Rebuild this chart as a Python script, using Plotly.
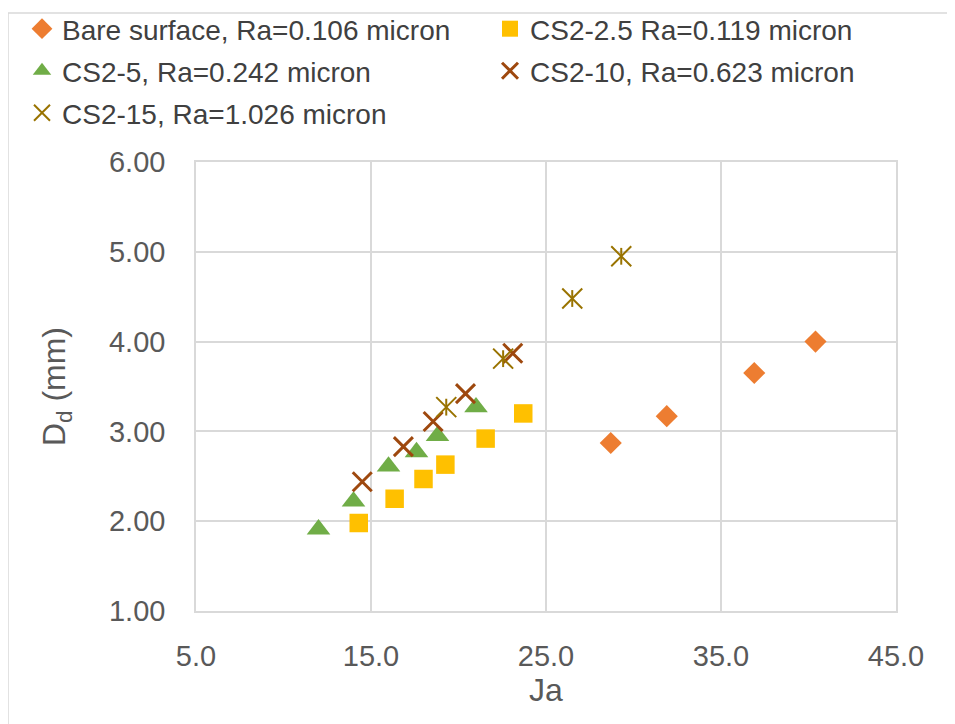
import plotly.graph_objects as go

# ---- data ----
bare_x = [28.7, 31.9, 36.9, 40.4]
bare_y = [2.87, 3.17, 3.65, 4.00]

cs25_x = [14.3, 16.35, 18.0, 19.25, 21.55, 23.7]
cs25_y = [1.98, 2.25, 2.47, 2.63, 2.92, 3.20]

cs5_x = [12.0, 14.0, 16.0, 17.6, 18.8, 21.0]
cs5_y = [1.91, 2.22, 2.61, 2.77, 2.95, 3.27]

cs10_x = [14.5, 16.85, 18.55, 20.4, 23.1]
cs10_y = [2.44, 2.83, 3.11, 3.42, 3.87]

cs15_x = [19.3, 22.55, 26.5, 29.3]
cs15_y = [3.27, 3.81, 4.48, 4.95]

names = ["Bare surface, Ra=0.106 micron", "CS2-2.5 Ra=0.119 micron",
         "CS2-5, Ra=0.242 micron", "CS2-10, Ra=0.623 micron",
         "CS2-15, Ra=1.026 micron"]

x_ticks = [5, 15, 25, 35, 45]
y_ticks = [1, 2, 3, 4, 5, 6]

FONT = "Liberation Sans, Arial, sans-serif"

# layout geometry (figure pixels; page adds an 8px body margin)
L, T, W, H = 188, 154, 700, 449
BOT = T + H


def px_x(p):
    return (p - L) / W


def px_y(p):
    return (BOT - p) / H


fig = go.Figure()
fig.add_trace(go.Scatter(x=bare_x, y=bare_y, mode="markers", name=names[0], legend="legend",
                         showlegend=True,
                         marker=dict(symbol="diamond", size=17, color="#ED7D31")))
fig.add_trace(go.Scatter(x=cs25_x, y=cs25_y, mode="markers", name=names[1], legend="legend2",
                         marker=dict(symbol="square", size=18.5, color="#FFC000")))
fig.add_trace(go.Scatter(x=cs5_x, y=cs5_y, mode="markers", name=names[2], legend="legend3",
                         marker=dict(symbol="triangle-up", size=20.5, color="#70AD47")))
fig.add_trace(go.Scatter(x=cs10_x, y=cs10_y, mode="markers", name=names[3], legend="legend4",
                         marker=dict(symbol="x-thin-open", size=19,
                                     line=dict(width=3, color="#9E480E"), color="#9E480E")))
fig.add_trace(go.Scatter(x=cs15_x, y=cs15_y, mode="markers", name=names[4], legend="legend5",
                         legendgroup="cs15",
                         marker=dict(symbol="x-thin-open", size=20,
                                     line=dict(width=2, color="#997300"), color="#997300")))
fig.add_trace(go.Scatter(x=cs15_x, y=cs15_y, mode="markers", name=names[4], legend="legend5",
                         legendgroup="cs15", showlegend=False,
                         marker=dict(symbol="line-ns-open", size=12,
                                     line=dict(width=2, color="#997300"), color="#997300")))

axis_common = dict(showgrid=True, gridcolor="#D9D9D9", gridwidth=1.5,
                   showline=True, mirror=True, linecolor="#D9D9D9", linewidth=1.5,
                   zeroline=False, ticks="outside", tickcolor="rgba(0,0,0,0)")

fig.update_xaxes(range=[5, 45], tickvals=x_ticks, tickformat=".1f", ticklen=18,
                 tickfont=dict(family=FONT, size=29, color="#595959"),
                 title=dict(text="Ja", font=dict(family=FONT, size=32, color="#595959"),
                            standoff=6),
                 **axis_common)
fig.update_yaxes(range=[1, 6], tickvals=y_ticks, tickformat=".2f", ticklen=23,
                 tickfont=dict(family=FONT, size=29, color="#595959"),
                 title=dict(text="D<sub>d</sub> (mm)", font=dict(family=FONT, size=32, color="#595959"),
                            standoff=34),
                 **axis_common)

fig.add_shape(type="rect", xref="paper", yref="paper",
              x0=px_x(0), x1=1.3, y0=-0.4, y1=px_y(5),
              line=dict(color="#D9D9D9", width=1.5), layer="below")

leg_font = dict(family=FONT, size=28, color="#404040")
col_x = [px_x(14), px_x(482)]
row_y = [px_y(21), px_y(63), px_y(105)]


def leg(xi, yi):
    return dict(x=col_x[xi], xanchor="left", y=row_y[yi], yanchor="middle",
                font=leg_font, bgcolor="rgba(0,0,0,0)", itemwidth=30,
                orientation="v", visible=True)


fig.update_layout(
    width=955, height=724,
    margin=dict(l=L, r=955 - L - W, t=T, b=724 - BOT, autoexpand=False),
    paper_bgcolor="white", plot_bgcolor="white",
    font=dict(family=FONT),
    showlegend=True,
    legend=leg(0, 0), legend2=leg(1, 0), legend3=leg(0, 1),
    legend4=leg(1, 1), legend5=leg(0, 2),
)

fig.write_html("out.html")
